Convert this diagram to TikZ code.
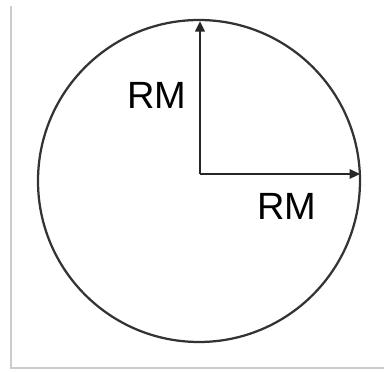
\documentclass[tikz,border=0pt]{standalone}
\usepackage{fontspec}
\setmainfont{Liberation Sans}
\usepackage{tikz}
\usetikzlibrary{arrows.meta}

\begin{document}
\begin{tikzpicture}[
  radius/.style={draw=black!85, line width=1.2pt, -{Triangle[length=2.6mm,width=2.4mm]}},
  rmlabel/.style={font=\fontsize{27}{30}\selectfont, inner sep=0pt}]
\useasboundingbox (-5, -4.95) rectangle (4.6, 4.35);
\draw[black!20, line width=1.1pt] (-4.725, 4.2) -- (-4.725, -4.85) -- (4.6, -4.85);
\draw[black!80, line width=1.6pt] (-0.025, -0.175) circle (4.025);
\coordinate (O) at (0, 0);
\coordinate (top) at (0, 3.82);
\coordinate (right) at (4.0, 0);
\draw[radius] (O) -- (top);
\draw[radius] (O) -- (right);
\node[rmlabel] (rmup) at (-1.075, 1.975) {RM};
\node[rmlabel] (rmright) at (2.175, -0.8) {RM};
\end{tikzpicture}
\end{document}
